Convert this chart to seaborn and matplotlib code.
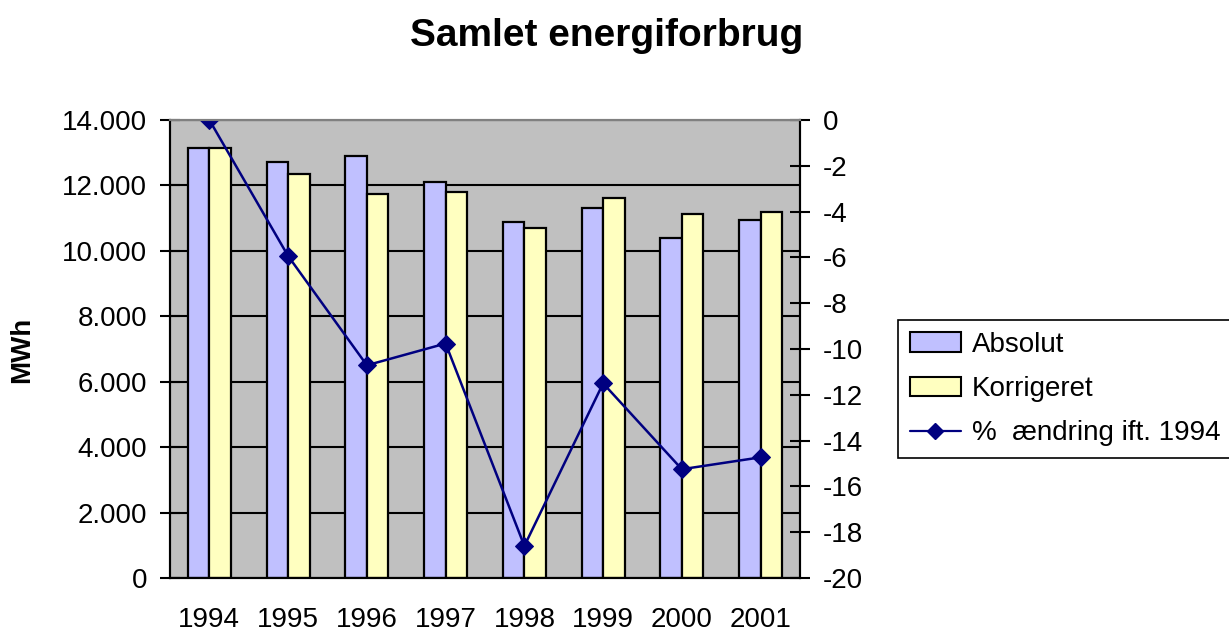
import pandas as pd
import seaborn as sns
import matplotlib.pyplot as plt
import numpy as np
from matplotlib.patches import Patch
from matplotlib.lines import Line2D

# Data
years = ["1994", "1995", "1996", "1997", "1998", "1999", "2000", "2001"]
absolut = [13140, 12710, 12900, 12100, 10880, 11310, 10400, 10940]
korrigeret = [13140, 12350, 11730, 11800, 10700, 11610, 11120, 11190]
pct_change = [0.0, -5.94, -10.71, -9.76, -18.6, -11.5, -15.25, -14.73]

left_ticks = [0, 2000, 4000, 6000, 8000, 10000, 12000, 14000]
right_ticks = [-20, -18, -16, -14, -12, -10, -8, -6, -4, -2, 0]

bar_colors = {"Absolut": "#C0C0FF", "Korrigeret": "#FFFFC0"}
line_color = "#000080"

sns.set_theme(style="white")
plt.rcParams["font.family"] = ["Liberation Sans", "DejaVu Sans"]
plt.rcParams["text.color"] = "black"
plt.rcParams["xtick.color"] = "black"
plt.rcParams["ytick.color"] = "black"
plt.rcParams["axes.labelcolor"] = "black"

df = pd.DataFrame(
    {
        "year": years * 2,
        "serie": ["Absolut"] * len(years) + ["Korrigeret"] * len(years),
        "value": absolut + korrigeret,
    }
)

fig = plt.figure(figsize=(12.29, 6.35), dpi=100)
ax = fig.add_axes([170 / 1229, 1 - 578 / 635, 630 / 1229, 458 / 635])
ax.set_facecolor("#C0C0C0")

sns.barplot(
    data=df,
    x="year",
    y="value",
    hue="serie",
    palette=bar_colors,
    width=0.546,
    gap=0,
    edgecolor="black",
    linewidth=1.6,
    saturation=1,
    legend=False,
    ax=ax,
)

ax.set_xlim(-0.5, len(years) - 0.5)
ax.set_ylim(0, 14000)
ax.set_yticks(left_ticks)
ax.set_yticklabels([f"{v:,.0f}".replace(",", ".") for v in left_ticks])
ax.set_axisbelow(True)
ax.yaxis.grid(True, color="black", linewidth=1.5)
ax.xaxis.grid(False)

# x ticks between categories, labels centered under each category
ax.set_xticks(np.arange(-0.5, len(years)))
ax.set_xticklabels([])
ax.set_xticks(np.arange(len(years)), minor=True)
ax.set_xticklabels(years, minor=True)
ax.tick_params(axis="x", which="major", direction="inout", length=15, width=1.5, color="black")
ax.tick_params(axis="x", which="minor", length=0, pad=21, labelsize=20, labelcolor="black")
ax.tick_params(axis="y", direction="inout", length=15, width=1.5, color="black", pad=9,
               labelsize=20, labelcolor="black", left=True)
ax.set_xlabel("")
ax.set_ylabel("")

for side in ["left", "bottom", "right"]:
    ax.spines[side].set_color("black")
    ax.spines[side].set_linewidth(1.5)
ax.spines["top"].set_color("#808080")
ax.spines["top"].set_linewidth(1.5)

# secondary axis for % change
ax2 = ax.twinx()
sns.lineplot(
    x=np.arange(len(years)),
    y=pct_change,
    color=line_color,
    marker="D",
    markersize=9,
    markeredgecolor=line_color,
    linewidth=1.8,
    ax=ax2,
)
ax2.set_ylim(-20, 0)
ax2.set_yticks(right_ticks)
ax2.set_yticklabels([f"{v:g}" for v in right_ticks])
ax2.tick_params(axis="y", direction="inout", length=15, width=1.5, color="black", pad=9,
                labelsize=20, labelcolor="black", right=True)
ax2.grid(False)
for side in ["left", "bottom", "right"]:
    ax2.spines[side].set_color("black")
    ax2.spines[side].set_linewidth(1.5)
ax2.spines["top"].set_color("#808080")
ax2.spines["top"].set_linewidth(1.5)
ax2.set_ylabel("")

fig.text(607 / 1229, 1 - 36 / 635, "Samlet energiforbrug", ha="center", va="center",
         fontsize=28, fontweight="bold", color="black")
fig.text(22 / 1229, 1 - 350 / 635, "MWh", ha="center", va="center", rotation=90,
         fontsize=20, fontweight="bold", color="black")

handles = [
    Patch(facecolor=bar_colors["Absolut"], edgecolor="black", linewidth=1.5),
    Patch(facecolor=bar_colors["Korrigeret"], edgecolor="black", linewidth=1.5),
    Line2D([], [], color=line_color, marker="D", markersize=8, linewidth=1.6),
]
leg = fig.legend(
    handles,
    ["Absolut", "Korrigeret", "%  ændring ift. 1994"],
    loc="upper left",
    bbox_to_anchor=(898 / 1229, 1 - 320 / 635),
    fontsize=20,
    frameon=True,
    fancybox=False,
    edgecolor="black",
    framealpha=1,
    borderpad=0.42,
    handlelength=1.85,
    handleheight=0.7,
    handletextpad=0.4,
    labelspacing=0.66,
    borderaxespad=0,
)
leg.get_frame().set_linewidth(1.2)
for t in leg.get_texts():
    t.set_color("black")

fig.savefig("out.png", dpi=100)
